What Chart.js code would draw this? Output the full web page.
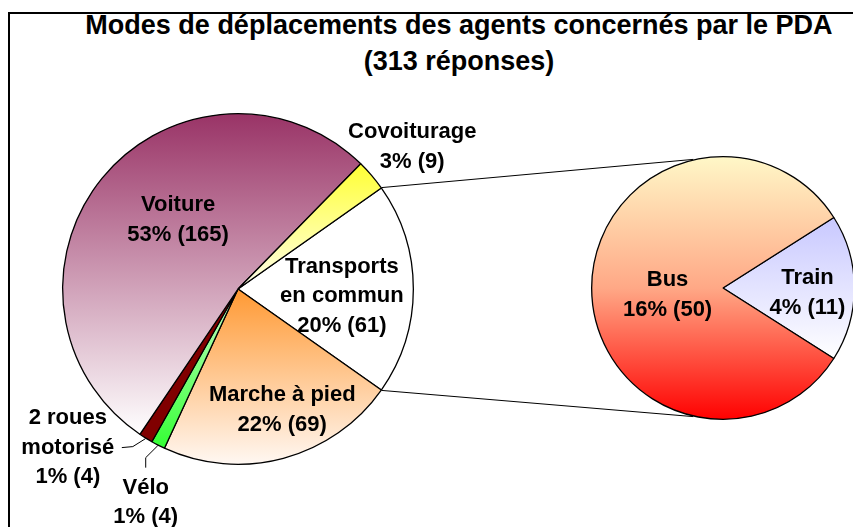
<!DOCTYPE html>
<html>
<head>
<meta charset="utf-8">
<script src="https://cdn.jsdelivr.net/npm/chart.js@4.4.1/dist/chart.umd.min.js"></script>
<style>
  body { margin: 0; background: #fff; }
  #wrap { position: relative; width: 853px; height: 527px; overflow: hidden; background: #fff; }
  #frame { position: absolute; left: 8px; top: 12px; width: 900px; height: 600px; border: 2px solid #000; }
  #title { position: absolute; left: 0; top: 7px; width: 918px; text-align: center;
           font: bold 27px "Liberation Sans", Arial, sans-serif; line-height: 36px; color: #000; }
  canvas { position: absolute; left: 0; top: 0; }
</style>
</head>
<body>
<div id="wrap">
  <div id="frame"></div>
  <div id="title">Modes de déplacements des agents concernés par le PDA<br>(313 réponses)</div>
  <canvas id="main_pie" width="900" height="540"></canvas>
  <canvas id="sub_pie" width="900" height="540"></canvas>
</div>
<script>
// main pie, clockwise from the split slice
let categories = ["Transports\nen commun", "Marche à pied", "Vélo", "2 roues\nmotorisé", "Voiture", "Covoiturage"];
let counts = [61, 69, 4, 4, 165, 9];
let percents = [20, 22, 1, 1, 53, 3];

// secondary pie (detail of "Transports en commun")
let subCategories = ["Train", "Bus"];
let subCounts = [11, 50];
let subPercents = [4, 16];

// styles
let mainFills = [["#ffffff", "#ffffff"], ["#ff9933", "#fff8f3"], ["#c8ffc8", "#33ff33"],
                 ["#800000", "#800000"], ["#993366", "#ffffff"], ["#ffff33", "#ffffee"]];
let subFills = [["#c8c8ff", "#ffffff"], ["#fff8c8", "#ff0000"]];

// label placement: radius factor along mid angle + pixel shift
let mainLabelPos = [
    {f: 0.59, dx: 0, dy: 7},
    {f: 0.73, dx: 11, dy: -3},
    {f: 1.30, dx: 12, dy: 10, leader: [[0, -35], [0, -45]]},
    {f: 1.32, dx: -48, dy: -39, leader: [[54, 0], [65, -1]]},
    {f: 0.52, dx: 11, dy: -11},
    {f: 1.27, dx: 4, dy: 3}
];
let subLabelPos = [
    {f: 0.64, dx: 0, dy: 5},
    {f: 0.42, dx: 0, dy: 7}
];

const FONT = 'bold 22px "Liberation Sans", Arial, sans-serif';
const LINE_H = 29.5;

function sumOf(a) { return a.reduce((s, v) => s + v, 0); }

let mainRotation = 90 - counts[0] / sumOf(counts) * 180;
let subRotation = 90 - subCounts[0] / sumOf(subCounts) * 180;

function geom(chart) {
    const a = chart.chartArea;
    return {cx: (a.left + a.right) / 2, cy: (a.top + a.bottom) / 2, r: Math.min(a.width, a.height) / 2};
}

function sliceAngles(values, rotation, i) {
    const total = sumOf(values);
    let a = (rotation - 90) * Math.PI / 180;
    for (let k = 0; k < i; k++) a += values[k] / total * 2 * Math.PI;
    return [a, a + values[i] / total * 2 * Math.PI];
}

function sliceGradient(values, rotation, fills) {
    return function (ctx) {
        const chart = ctx.chart;
        const i = ctx.dataIndex;
        const [c0, c1] = fills[i];
        if (!chart.chartArea) return c0;
        const g = geom(chart);
        const [a, b] = sliceAngles(values, rotation, i);
        const ys = [g.cy, g.cy + g.r * Math.sin(a), g.cy + g.r * Math.sin(b)];
        [-Math.PI / 2, Math.PI / 2, 3 * Math.PI / 2, 5 * Math.PI / 2].forEach(t => {
            if (t > a && t < b) ys.push(g.cy + g.r * Math.sin(t));
        });
        const y0 = Math.min(...ys), y1 = Math.max(...ys);
        const grad = chart.ctx.createLinearGradient(0, y0, 0, y1);
        grad.addColorStop(0, c0);
        if (fills === subFills && i === 1) grad.addColorStop(0.5, "#ffa886");
        grad.addColorStop(1, c1);
        return grad;
    };
}

function labelPlugin(names, values, pcts, rotation, pos) {
    return {
        id: "sliceLabels",
        afterDatasetsDraw(chart) {
            const c = chart.ctx;
            const g = geom(chart);
            c.save();
            c.font = FONT;
            c.fillStyle = "#000";
            c.textAlign = "center";
            c.textBaseline = "middle";
            names.forEach((name, i) => {
                const [a, b] = sliceAngles(values, rotation, i);
                const m = (a + b) / 2;
                const p = pos[i];
                const x = g.cx + Math.cos(m) * g.r * p.f + p.dx;
                const y = g.cy + Math.sin(m) * g.r * p.f + p.dy;
                const lines = name.split("\n").concat([pcts[i] + "% (" + values[i] + ")"]);
                const top = y - (lines.length - 1) * LINE_H / 2;
                lines.forEach((t, k) => c.fillText(t, x, top + k * LINE_H));
                if (p.leader) {
                    c.beginPath();
                    c.strokeStyle = "#000";
                    c.lineWidth = 1;
                    c.moveTo(x + p.leader[0][0], y + p.leader[0][1]);
                    c.lineTo(x + p.leader[1][0], y + p.leader[1][1]);
                    c.lineTo(g.cx + Math.cos(m) * g.r, g.cy + Math.sin(m) * g.r);
                    c.stroke();
                }
            });
            c.restore();
        }
    };
}

var MainPie = new Chart("main_pie", {
    type: "pie",
    data: {
        labels: categories,
        datasets: [{
            data: counts,
            backgroundColor: sliceGradient(counts, mainRotation, mainFills),
            borderColor: "#000",
            borderWidth: 1.3
        }]
    },
    options: {
        responsive: false,
        animation: false,
        events: [],
        rotation: mainRotation,
        layout: {padding: {left: 62, top: 113, right: 486, bottom: 75}},
        plugins: {legend: {display: false}, tooltip: {enabled: false}}
    },
    plugins: [labelPlugin(categories, counts, percents, mainRotation, mainLabelPos)]
});

// lines joining the split slice to the secondary pie
let connectorPlugin = {
    id: "connectors",
    beforeDatasetsDraw(chart) {
        const m = geom(MainPie);
        const s = geom(chart);
        const [a, b] = sliceAngles(counts, mainRotation, 0);
        const t = 103 * Math.PI / 180;
        const c = chart.ctx;
        c.save();
        c.strokeStyle = "#000";
        c.lineWidth = 1;
        c.beginPath();
        c.moveTo(m.cx + m.r * Math.cos(a), m.cy + m.r * Math.sin(a));
        c.lineTo(s.cx + s.r * Math.cos(-t), s.cy + s.r * Math.sin(-t));
        c.moveTo(m.cx + m.r * Math.cos(b), m.cy + m.r * Math.sin(b));
        c.lineTo(s.cx + s.r * Math.cos(t), s.cy + s.r * Math.sin(t));
        c.stroke();
        c.restore();
    }
};

var SubPie = new Chart("sub_pie", {
    type: "pie",
    data: {
        labels: subCategories,
        datasets: [{
            data: subCounts,
            backgroundColor: sliceGradient(subCounts, subRotation, subFills),
            borderColor: "#000",
            borderWidth: 1.3
        }]
    },
    options: {
        responsive: false,
        animation: false,
        events: [],
        rotation: subRotation,
        layout: {padding: {left: 591, top: 156, right: 45, bottom: 120}},
        plugins: {legend: {display: false}, tooltip: {enabled: false}}
    },
    plugins: [connectorPlugin, labelPlugin(subCategories, subCounts, subPercents, subRotation, subLabelPos)]
});
</script>
</body>
</html>
